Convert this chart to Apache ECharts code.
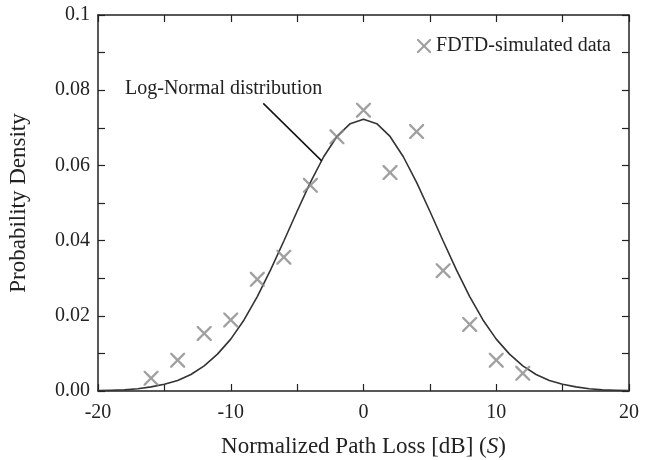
<!DOCTYPE html>
<html>
<head>
<meta charset="utf-8">
<script src="https://cdn.jsdelivr.net/npm/echarts@6/dist/echarts.min.js"></script>
<style>
  html, body { margin: 0; padding: 0; background: #fff; }
  #chart { width: 646px; height: 460px; }
</style>
</head>
<body>
<div id="chart"></div>
<script>
// FDTD-simulated data (x markers)
var simX = [-16, -14, -12, -10, -8, -6, -4, -2, 0, 2, 4, 6, 8, 10, 12];
var simY = [0.0034, 0.0082, 0.0153, 0.0189, 0.0297, 0.0356, 0.0547, 0.0676, 0.0747, 0.0581, 0.0690, 0.0320, 0.0177, 0.0082, 0.0047];

// log-normal curve, read at every dB
var curveX = [-20, -19, -18, -17, -16, -15, -14, -13, -12, -11, -10, -9, -8, -7, -6, -5, -4, -3, -2, -1,
              0, 1, 2, 3, 4, 5, 6, 7, 8, 9, 10, 11, 12, 13, 14, 15, 16, 17, 18, 19, 20];
var curveY = [0.0001, 0.0002, 0.0003, 0.0006, 0.0011, 0.0018, 0.0028, 0.0044, 0.0067, 0.0098,
              0.0138, 0.0189, 0.0251, 0.0322, 0.0399, 0.0478, 0.0555, 0.0623, 0.0677, 0.0711,
              0.0723,
              0.0711, 0.0677, 0.0623, 0.0555, 0.0478, 0.0399, 0.0322, 0.0251, 0.0189, 0.0138,
              0.0098, 0.0067, 0.0044, 0.0028, 0.0018, 0.0011, 0.0006, 0.0003, 0.0002, 0.0001];

// tick labels
var xTickLabels = ['-20', '-10', '0', '10', '20'];
var yTickLabels = ['0.00', '0.02', '0.04', '0.06', '0.08', '0.1'];

// leader line of the annotation (data coords)
var leader = [[-7.55, 0.0765], [-3.15, 0.0612]];

var serif = '"Liberation Serif", "DejaVu Serif", serif';
var crossPath = 'path://M0,0L1.1,0L5,3.9L8.9,0L10,0L10,1.1L6.1,5L10,8.9L10,10L8.9,10L5,6.1L1.1,10L0,10L0,8.9L3.9,5L0,1.1Z';

var simData = simX.map(function (x, i) { return [x, simY[i]]; });
var curveData = curveX.map(function (x, i) { return [x, curveY[i]]; });

var axisLine = { onZero: false, lineStyle: { color: '#222', width: 1.5 } };
var tick = { show: true, inside: true, length: 7, lineStyle: { color: '#222', width: 1.2 } };

(function () {
  var myChart = echarts.init(document.getElementById('chart'));
  var option = {
    backgroundColor: '#fff',
    animation: false,
    grid: { left: 98, right: 17, top: 15, bottom: 69, outerBoundsMode: 'none', containLabel: false },
    legend: {
      data: ['FDTD-simulated data'],
      right: 30, top: 31,
      itemWidth: 14, itemHeight: 14, itemGap: 6,
      textStyle: { fontFamily: serif, fontSize: 20, color: '#222' }
    },
    xAxis: [
      {
        type: 'value', min: -20, max: 20, interval: 5,
        axisLine: axisLine, axisTick: tick, splitLine: { show: false },
        axisLabel: {
          margin: 12, fontFamily: serif, fontSize: 20, color: '#222',
          formatter: function (v) {
            var i = xTickLabels.indexOf(String(v));
            return i >= 0 ? xTickLabels[i] : '';
          }
        },
        name: 'Normalized Path Loss [dB] ({it|S})',
        nameLocation: 'middle', nameGap: 44,
        nameTextStyle: {
          fontFamily: serif, fontSize: 23, color: '#222',
          rich: { it: { fontFamily: serif, fontSize: 23, fontStyle: 'italic', color: '#222' } }
        }
      },
      {
        type: 'value', min: -20, max: 20, interval: 5, position: 'top',
        axisLine: axisLine, axisTick: tick, axisLabel: { show: false }, splitLine: { show: false }
      }
    ],
    yAxis: [
      {
        type: 'value', min: 0, max: 0.1, interval: 0.01,
        axisLine: axisLine, axisTick: tick, splitLine: { show: false },
        axisLabel: {
          margin: 8, fontFamily: serif, fontSize: 20, color: '#222',
          formatter: function (v) {
            var k = Math.round(v * 100);
            return k % 2 === 0 ? yTickLabels[k / 2] : '';
          }
        },
        name: 'Probability Density',
        nameLocation: 'middle', nameGap: 68,
        nameTextStyle: { fontFamily: serif, fontSize: 23, color: '#222' }
      },
      {
        type: 'value', min: 0, max: 0.1, interval: 0.01, position: 'right',
        axisLine: axisLine, axisTick: tick, axisLabel: { show: false }, splitLine: { show: false }
      }
    ],
    graphic: [
      {
        type: 'text', left: 125, top: 79,
        style: { text: 'Log-Normal distribution', font: '20px ' + serif, fill: '#222' }
      }
    ],
    series: [
      {
        name: 'Log-Normal distribution',
        type: 'line',
        data: curveData,
        showSymbol: false,
        symbol: 'none',
        lineStyle: { color: '#333', width: 1.6 },
        markLine: {
          silent: true, symbol: 'none', label: { show: false },
          lineStyle: { color: '#111', width: 1.5, type: 'solid' },
          data: [[{ coord: leader[0] }, { coord: leader[1] }]]
        },
        z: 2
      },
      {
        name: 'FDTD-simulated data',
        type: 'scatter',
        data: simData,
        symbol: crossPath,
        symbolSize: 15,
        itemStyle: { color: '#888' },
        z: 3
      }
    ]
  };
  myChart.setOption(option);
})();
</script>
</body>
</html>
